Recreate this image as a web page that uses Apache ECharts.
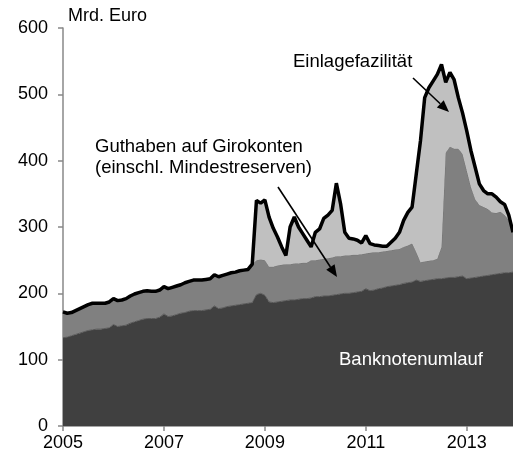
<!DOCTYPE html>
<html>
<head>
<meta charset="utf-8">
<title>Bundesbank Passiva</title>
<script src="https://cdn.jsdelivr.net/npm/echarts@6/dist/echarts.min.js"></script>
<style>
  html, body { margin: 0; padding: 0; background: #fff; }
  #chart { width: 513px; height: 452px; }
</style>
</head>
<body>
<div id="chart"></div>
<script>
// monthly values, Jan 2005 .. Dec 2013, Mrd. Euro
var startYear = 2005;
var banknoten = [
  133,134,136,138,140,142,144,145,146,146,147,148,
  153,150,151,152,155,157,159,161,162,162,162,164,
  169,165,166,168,170,171,173,174,174,174,175,176,
  181,177,178,180,181,182,183,184,185,186,198,200,
  197,187,186,187,188,189,190,190,191,192,192,193,
  195,195,196,196,197,198,199,200,200,201,202,203,
  207,204,205,207,208,210,211,212,213,215,216,217,
  220,218,219,220,221,222,222,223,224,224,225,226,
  222,223,224,225,226,227,228,229,230,231,231,232
];
var girokonten = [
  39,36,35,36,37,38,39,40,39,39,38,39,
  39,39,39,40,41,42,42,42,42,41,41,41,
  41,42,43,43,43,45,45,46,46,46,46,46,
  47,48,49,49,50,50,51,51,51,58,52,51,
  53,53,54,55,55,55,54,55,54,54,54,57,
  55,56,56,57,57,58,57,57,57,57,56,56,
  53,57,57,55,55,54,54,54,54,55,56,58,
  42,29,29,29,29,30,48,189,197,194,193,184,
  163,137,118,108,104,100,94,92,93,87,79,60
];
var einlage = [
  0,0,0,0,0,0,0,0,0,0,0,0,
  0,0,0,0,0,0,0,0,0,0,0,0,
  0,0,0,0,0,0,0,0,0,0,0,0,
  0,0,0,0,0,0,0,0,0,0,90,85,
  91,75,58,43,27,13,56,70,55,44,34,20,
  42,46,61,65,71,110,79,35,26,24,22,17,
  27,14,11,10,8,7,12,17,25,40,50,55,
  118,183,247,261,270,278,275,106,112,104,77,62,
  60,55,48,32,25,23,28,24,15,16,8,0
];

var months = banknoten.map(function (v, i) {
  var m = i % 12 + 1;
  return (startYear + Math.floor(i / 12)) + '-' + (m < 10 ? '0' + m : m);
});

var font = 'Liberation Sans, Arial, sans-serif';

function arrow(x1, y1, x2, y2) {
  var a = Math.atan2(y2 - y1, x2 - x1);
  var len = 12, half = 5;
  var bx = x2 - len * Math.cos(a), by = y2 - len * Math.sin(a);
  return [
    { type: 'line', z: 100, shape: { x1: x1, y1: y1, x2: bx, y2: by },
      style: { stroke: '#000', lineWidth: 1.6 } },
    { type: 'polygon', z: 100,
      shape: { points: [[x2, y2],
        [bx + half * Math.sin(a), by - half * Math.cos(a)],
        [bx - half * Math.sin(a), by + half * Math.cos(a)]] },
      style: { fill: '#000' } }
  ];
}

// every second January gets a tick and a label
function everyTwoYears(i) { return i % 24 === 0; }

var myChart = echarts.init(document.getElementById('chart'));
myChart.setOption({
  animation: false,
  grid: { left: 63, right: -1, top: 28, bottom: 26 },
  xAxis: {
    type: 'category',
    data: months,
    boundaryGap: false,
    axisLine: { lineStyle: { color: '#888', width: 1.5 } },
    axisTick: { show: true, length: 5, interval: everyTwoYears, lineStyle: { color: '#888', width: 1.5 } },
    axisLabel: { color: '#000', fontSize: 18, fontFamily: font, margin: 8, interval: everyTwoYears,
      formatter: function (v) { return v.slice(0, 4); } },
    splitLine: { show: false }
  },
  yAxis: {
    type: 'value',
    min: 0, max: 600, interval: 100,
    axisLine: { show: true, lineStyle: { color: '#888', width: 1.5 } },
    axisTick: { show: true, length: 5, lineStyle: { color: '#888', width: 1.5 } },
    axisLabel: { color: '#000', fontSize: 18, fontFamily: font, margin: 15 },
    splitLine: { show: false }
  },
  series: [
    {
      name: 'Banknotenumlauf', type: 'line', stack: 'total', data: banknoten,
      showSymbol: false, z: 2,
      lineStyle: { color: '#585858', width: 1 },
      areaStyle: { color: '#404040', opacity: 1 }
    },
    {
      name: 'Guthaben auf Girokonten', type: 'line', stack: 'total', data: girokonten,
      showSymbol: false, z: 2,
      lineStyle: { color: '#737373', width: 1 },
      areaStyle: { color: '#808080', opacity: 1 }
    },
    {
      name: 'Einlagefazilität', type: 'line', stack: 'total', data: einlage,
      showSymbol: false, z: 3,
      lineStyle: { color: '#000', width: 3.5 },
      areaStyle: { color: '#c0c0c0', opacity: 1 }
    }
  ],
  graphic: [
    { type: 'text', left: 68, top: 7, z: 100,
      style: { text: 'Mrd. Euro', font: '18px ' + font, fill: '#000' } },
    { type: 'text', left: 293, top: 52, z: 100,
      style: { text: 'Einlagefazilität', font: '18.5px ' + font, fill: '#000' } },
    { type: 'text', left: 95, top: 136, z: 100,
      style: { text: 'Guthaben auf Girokonten\n(einschl. Mindestreserven)', font: '18.5px ' + font,
        lineHeight: 21, fill: '#000' } },
    { type: 'text', left: 339, top: 350, z: 100,
      style: { text: 'Banknotenumlauf', font: '18.5px ' + font, fill: '#fff' } }
  ].concat(arrow(413, 78, 449, 112), arrow(278, 187, 337, 277))
});
</script>
</body>
</html>
